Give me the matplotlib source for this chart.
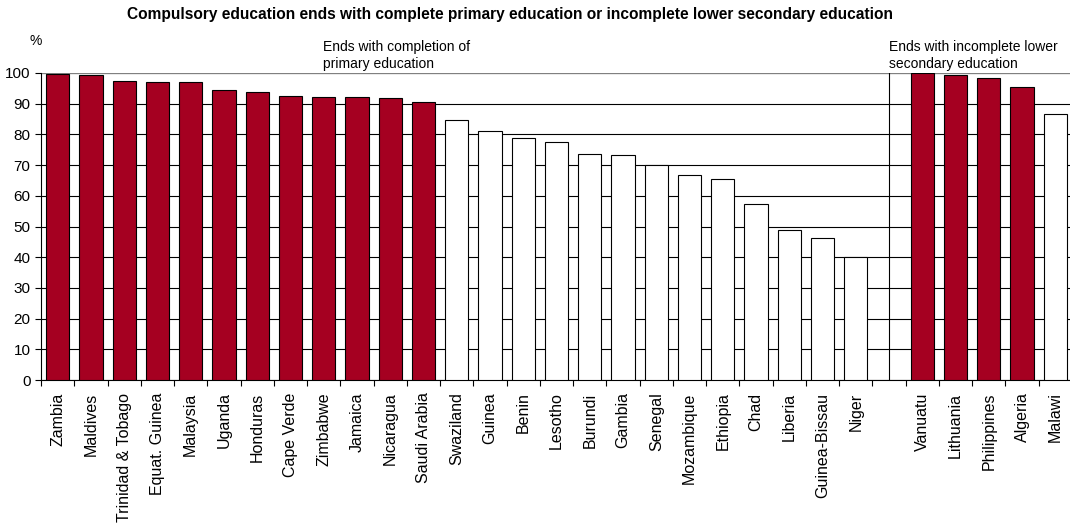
import matplotlib
matplotlib.use('Agg')
from matplotlib import pyplot as plt

plt.rcParams['font.family'] = ['Liberation Sans', 'DejaVu Sans']

# ends with completion of primary education
primary_countries = ['Zambia', 'Maldives', 'Trinidad & Tobago', 'Equat. Guinea', 'Malaysia',
                     'Uganda', 'Honduras', 'Cape Verde', 'Zimbabwe', 'Jamaica', 'Nicaragua',
                     'Saudi Arabia', 'Swaziland', 'Guinea', 'Benin', 'Lesotho', 'Burundi',
                     'Gambia', 'Senegal', 'Mozambique', 'Ethiopia', 'Chad', 'Liberia',
                     'Guinea-Bissau', 'Niger']
primary_values = [99.8, 99.3, 97.5, 97.1, 97.1, 94.6, 93.9, 92.4, 92.1, 92.1, 91.7,
                  90.7, 84.7, 81.1, 78.9, 77.5, 73.5, 73.3, 70.0, 66.8, 65.4, 57.4,
                  49.0, 46.2, 40.0]
primary_highlight = [True] * 12 + [False] * 13

# ends with incomplete lower secondary education
secondary_countries = ['Vanuatu', 'Lithuania', 'Philippines', 'Algeria', 'Malawi']
secondary_values = [100.0, 99.5, 98.5, 95.3, 86.7]
secondary_highlight = [True, True, True, True, False]

red = '#A50021'

fig = plt.figure(figsize=(10.7, 5.24), dpi=100)
ax = fig.add_axes([41 / 1070, 1 - 380 / 524, 1031 / 1070, 307 / 524])

n1 = len(primary_countries)
x1 = list(range(n1))
x2 = [n1 + 1 + i for i in range(len(secondary_countries))]
xs = x1 + x2
labels = primary_countries + secondary_countries
values = primary_values + secondary_values
colors = [red if h else 'white' for h in primary_highlight + secondary_highlight]

ax.bar(xs, values, width=0.7, color=colors, edgecolor='black', linewidth=0.8, zorder=3)

ax.set_ylim(0, 100)
ax.set_xlim(-0.5, xs[-1] + 0.5)
ax.set_yticks(range(0, 101, 10))
ax.yaxis.grid(True, color='black', linewidth=0.8, zorder=0)
ax.set_axisbelow(True)

ax.set_xticks(xs)
ax.set_xticklabels(labels, rotation=90, fontsize=11.5)
ax.set_xticks([i - 0.5 for i in range(xs[-1] + 2)], minor=True)
ax.tick_params(axis='x', which='major', length=0, pad=9)
ax.tick_params(axis='x', which='minor', length=4, width=0.8)
ax.tick_params(axis='y', length=4, width=0.8, labelsize=11)

for s in ['top', 'right']:
    ax.spines[s].set_visible(False)
ax.spines['left'].set_linewidth(0.8)
ax.spines['bottom'].set_linewidth(0.8)
ax.axhline(100, color='#808080', linewidth=0.8, zorder=1)

# separator between the two groups
ax.axvline(n1, color='black', linewidth=0.8, zorder=2)

ax.text(7.98, 100.8, 'Ends with completion of\nprimary education', fontsize=10,
        ha='left', va='bottom', linespacing=1.25)
ax.text(n1, 100.8, 'Ends with incomplete lower\nsecondary education', fontsize=10,
        ha='left', va='bottom', linespacing=1.25)
fig.text(30 / 1070, 1 - 41 / 524, '%', fontsize=10, ha='left', va='center')

fig.text(510 / 1070, 1 - 14 / 524,
         'Compulsory education ends with complete primary education or incomplete lower secondary education',
         fontsize=11.2, fontweight='bold', ha='center', va='center')

fig.savefig('out.png', dpi=100)
